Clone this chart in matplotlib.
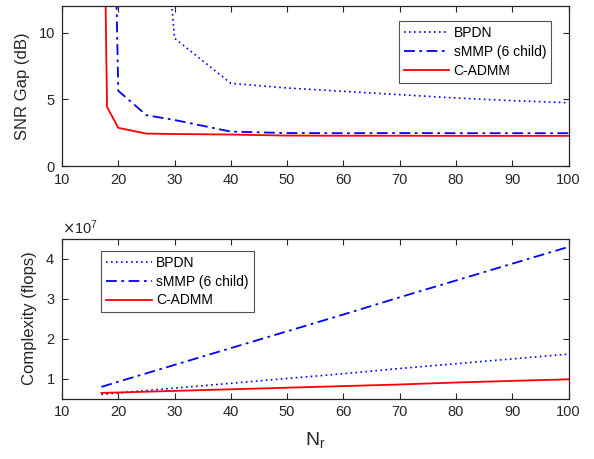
import matplotlib
matplotlib.use("Agg")
import matplotlib.pyplot as plt
from matplotlib.ticker import ScalarFormatter

plt.rcParams['font.family'] = ['Liberation Sans', 'DejaVu Sans']

# ---- data ----
nr = [17, 18, 20, 25, 30, 40, 50, 60, 70, 80, 90, 100]
snr_bpdn = [80, 70, 50, 35, 9.58, 6.2, 5.85, 5.6, 5.35, 5.1, 4.9, 4.75]
snr_smmp = [60, 48, 5.64, 3.81, 3.45, 2.58, 2.47, 2.46, 2.47, 2.46, 2.46, 2.46]
snr_cadmm = [35, 4.43, 2.86, 2.43, 2.40, 2.36, 2.28, 2.27, 2.27, 2.26, 2.26, 2.26]

nr_c = [17, 20, 25, 30, 40, 50, 60, 70, 80, 90, 100]
cx_bpdn = [0.60, 0.64, 0.70, 0.76, 0.88, 1.00, 1.12, 1.25, 1.37, 1.49, 1.61]
cx_smmp = [0.79, 0.92, 1.13, 1.34, 1.76, 2.18, 2.60, 3.03, 3.45, 3.87, 4.29]
cx_cadmm = [0.64, 0.65, 0.67, 0.69, 0.73, 0.77, 0.81, 0.85, 0.90, 0.94, 0.98]
scale = 1e7

labels = ['BPDN', 'sMMP (6 child)', 'C-ADMM']
x_ticks = [10, 20, 30, 40, 50, 60, 70, 80, 90, 100]

W, H = 594, 459
fig = plt.figure(figsize=(W / 100, H / 100), dpi=100)

def rect(l, t, r, b):
    return [l / W, 1 - b / H, (r - l) / W, (b - t) / H]

ax1 = fig.add_axes(rect(62, 6, 568.5, 166))
ax2 = fig.add_axes(rect(62, 238.5, 568.5, 398.5))

spine_c = '#262626'
for ax in (ax1, ax2):
    for s in ax.spines.values():
        s.set_color(spine_c)
        s.set_linewidth(0.9)
    ax.tick_params(direction='in', top=True, right=True, length=4.5, width=0.8,
                   colors=spine_c, labelsize=10.5, pad=5)
    ax.set_xlim(10, 100)
    ax.set_xticks(x_ticks)

styles = [dict(color='#0000ff', ls=(0, (1, 2)), lw=1.2),
          dict(color='#0000ff', ls=(0, (6, 2.5, 1.5, 2.5)), lw=1.3),
          dict(color='#ff0000', ls='-', lw=1.3)]

leg_kw = dict(fontsize=10, frameon=True, fancybox=False, edgecolor=spine_c,
              handlelength=3.3, handletextpad=0.3, borderpad=0.36, labelspacing=0.35,
              borderaxespad=0)

for ys, lab, st in zip([snr_bpdn, snr_smmp, snr_cadmm], labels, styles):
    ax1.plot(nr, ys, label=lab, **st)
ax1.set_ylim(0, 12)
ax1.set_yticks([0, 5, 10])
ax1.set_ylabel('SNR Gap (dB)', fontsize=12, color=spine_c, labelpad=6)
leg1 = ax1.legend(loc='upper right', bbox_to_anchor=((551 - 62) / 506.5, (166 - 21) / 160), **leg_kw)
leg1.get_frame().set_linewidth(0.8)

for ys, lab, st in zip([cx_bpdn, cx_smmp, cx_cadmm], labels, styles):
    ax2.plot(nr_c, [v * scale for v in ys], label=lab, **st)
ax2.set_ylim(0.5e7, 4.5e7)
ax2.set_yticks([1e7, 2e7, 3e7, 4e7])
fmt = ScalarFormatter(useMathText=True)
fmt.set_powerlimits((0, 0))
ax2.yaxis.set_major_formatter(fmt)
ax2.yaxis.get_offset_text().set_fontsize(10.5)
ax2.yaxis.get_offset_text().set_color(spine_c)
ax2.set_ylabel('Complexity (flops)', fontsize=12, color=spine_c, labelpad=6)
ax2.set_xlabel('N$_\\mathregular{r}$', fontsize=14, color=spine_c, labelpad=8)
leg2 = ax2.legend(loc='upper left', bbox_to_anchor=((101 - 62) / 506.5, (398.5 - 250.7) / 160), **leg_kw)
leg2.get_frame().set_linewidth(0.8)

fig.savefig('out.png', dpi=100)
